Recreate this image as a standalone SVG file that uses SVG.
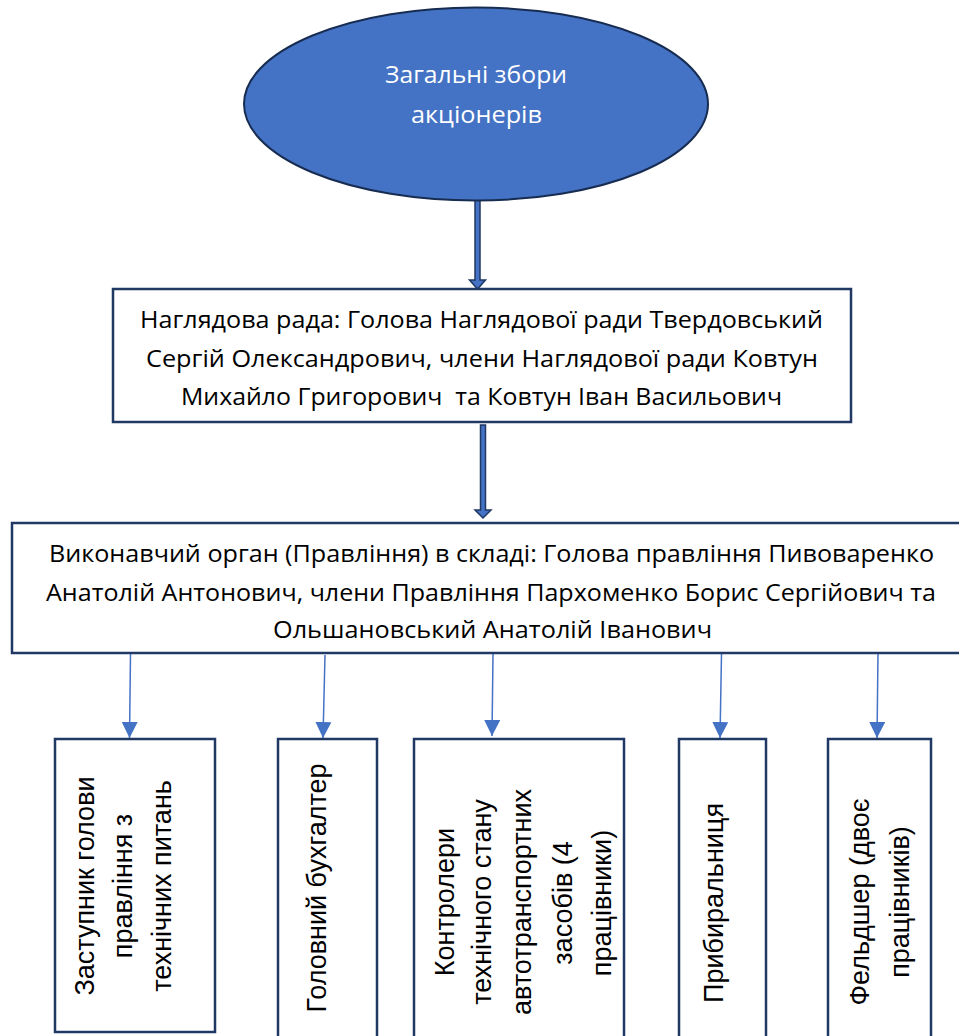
<svg xmlns="http://www.w3.org/2000/svg" width="959" height="1036" viewBox="0 0 959 1036">
<defs>
<style>
.box{fill:#ffffff;stroke:#1F3864;stroke-width:2.5}
.t{font-family:"Open Sans","Noto Sans",sans-serif;font-size:24.5px;fill:#000000;white-space:pre}
.tw{font-family:"Open Sans","Noto Sans",sans-serif;font-size:24.5px;fill:#ffffff}
.v{font-family:"Liberation Sans",Arial,sans-serif;font-size:27px;fill:#000000;text-anchor:middle}
.thin{stroke:#4472C4;stroke-width:1.5;fill:none;marker-end:url(#ah)}
.blk{fill:#4472C4;stroke:#1F3864;stroke-width:1.5;stroke-linejoin:miter}
</style>
<marker id="ah" markerUnits="userSpaceOnUse" markerWidth="16" markerHeight="16" refX="16" refY="8" orient="auto">
<path d="M0,0 L16,8 L0,16 z" fill="#4472C4"/>
</marker>
</defs>
<rect width="959" height="1036" fill="#ffffff"/>

<g id="connectors">
<polygon class="blk" points="475,200 480,200 480,280 485.5,280 477.5,289 469.5,280 475,280"/>
<polygon class="blk" points="480.5,425 485.5,425 485.5,510 491,510 483,518 475,510 480.5,510"/>
<line class="thin" x1="130.5" y1="654" x2="129.5" y2="738"/>
<line class="thin" x1="325" y1="655" x2="323" y2="738"/>
<line class="thin" x1="493" y1="654" x2="492" y2="736"/>
<line class="thin" x1="721.5" y1="654" x2="720" y2="738"/>
<line class="thin" x1="878" y1="654" x2="877" y2="738"/>
</g>

<g id="node-zbory">
<ellipse cx="476" cy="104" rx="232" ry="96.5" fill="#4472C4" stroke="#172C51" stroke-width="2"/>
<text class="tw" x="385" y="83" textLength="182" lengthAdjust="spacingAndGlyphs">Загальні збори</text>
<text class="tw" x="411" y="123" textLength="131" lengthAdjust="spacingAndGlyphs">акціонерів</text>
</g>

<g id="node-rada">
<rect class="box" x="113" y="289" width="738" height="133"/>
<text class="t" x="140" y="328" textLength="683" lengthAdjust="spacingAndGlyphs">Наглядова рада: Голова Наглядової ради Твердовський</text>
<text class="t" x="146" y="367" textLength="672" lengthAdjust="spacingAndGlyphs">Сергій Олександрович, члени Наглядової ради Ковтун</text>
<text class="t" x="181" y="405" textLength="601" lengthAdjust="spacingAndGlyphs">Михайло Григорович  та Ковтун Іван Васильович</text>
</g>

<g id="node-pravlinnia">
<rect class="box" x="12" y="523" width="960" height="130"/>
<text class="t" x="49" y="562" textLength="885" lengthAdjust="spacingAndGlyphs">Виконавчий орган (Правління) в складі: Голова правління Пивоваренко</text>
<text class="t" x="46" y="601" textLength="890" lengthAdjust="spacingAndGlyphs">Анатолій Антонович, члени Правління Пархоменко Борис Сергійович та</text>
<text class="t" x="273" y="638" textLength="439" lengthAdjust="spacingAndGlyphs">Ольшановський Анатолій Іванович</text>
</g>

<g id="node-zastupnyk">
<rect class="box" x="55" y="739" width="160" height="293"/>
<text class="v" transform="translate(94,886) rotate(-90)">Заступник голови</text>
<text class="v" transform="translate(132,886) rotate(-90)">правління з</text>
<text class="v" transform="translate(171,886) rotate(-90)">технічних питань</text>
</g>

<g id="node-bukhgalter">
<rect class="box" x="278" y="739" width="99" height="310"/>
<text class="v" transform="translate(326,888) rotate(-90)">Головний бухгалтер</text>
</g>

<g id="node-kontrolery">
<rect class="box" x="414" y="739" width="210" height="310"/>
<text class="v" transform="translate(454,902) rotate(-90)">Контролери</text>
<text class="v" transform="translate(491,902) rotate(-90)">технічного стану</text>
<text class="v" transform="translate(531,902) rotate(-90)">автотранспортних</text>
<text class="v" transform="translate(572,903) rotate(-90)">засобів (4</text>
<text class="v" transform="translate(611,903) rotate(-90)">працівники)</text>
</g>

<g id="node-prybyralnytsia">
<rect class="box" x="679" y="739" width="87" height="310"/>
<text class="v" transform="translate(723,903) rotate(-90)">Прибиральниця</text>
</g>

<g id="node-feldsher">
<rect class="box" x="828" y="739" width="103" height="310"/>
<text class="v" transform="translate(869,902) rotate(-90)">Фельдшер (двоє</text>
<text class="v" transform="translate(909,902) rotate(-90)">працівників)</text>
</g>
</svg>
